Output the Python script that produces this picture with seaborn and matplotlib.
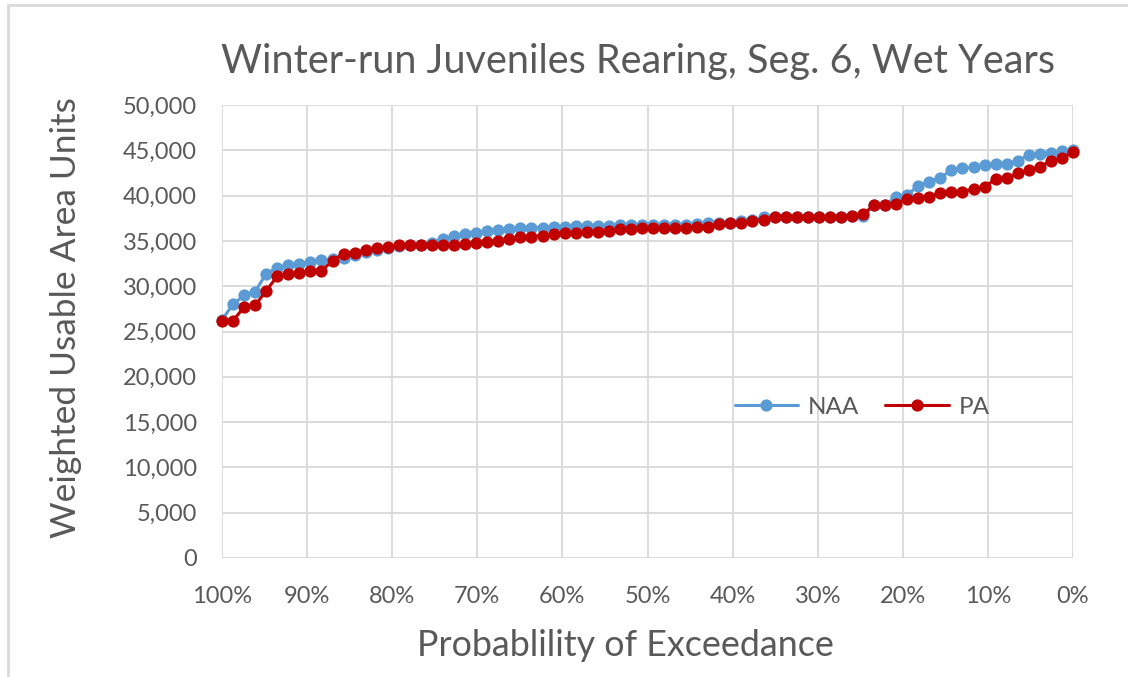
import numpy as np
import pandas as pd
import matplotlib
matplotlib.use("Agg")
import matplotlib.pyplot as plt
from matplotlib.lines import Line2D
from matplotlib.ticker import FuncFormatter, MultipleLocator
import seaborn as sns

# values sorted from lowest (100% exceedance) to highest (0% exceedance)
naa = [26300, 28000, 29000, 29400, 31400, 32000, 32300, 32500, 32700, 32900,
       33000, 33100, 33400, 33800, 34000, 34200, 34400, 34500, 34600, 34800,
       35180, 35550, 35770, 35920, 36140, 36210, 36320, 36400, 36470, 36470,
       36580, 36580, 36650, 36650, 36650, 36690, 36760, 36760, 36800, 36800,
       36800, 36800, 36800, 36900, 36950, 36950, 37000, 37250, 37350, 37600,
       37650, 37650, 37650, 37650, 37650, 37650, 37680, 37700, 37700, 38950,
       38980, 39890, 40080, 41100, 41540, 41990, 42800, 43000, 43150, 43420,
       43440, 43520, 43830, 44490, 44640, 44680, 44900, 45040]
pa = [26200, 26200, 27700, 27900, 29500, 31100, 31400, 31500, 31700, 31700,
      32800, 33600, 33700, 34000, 34200, 34300, 34500, 34500, 34550, 34560,
      34560, 34560, 34630, 34740, 34920, 35030, 35180, 35400, 35480, 35590,
      35770, 35920, 35920, 35960, 36030, 36100, 36290, 36320, 36400, 36400,
      36420, 36470, 36470, 36580, 36580, 36870, 36950, 36950, 37240, 37320,
      37610, 37610, 37610, 37610, 37610, 37610, 37680, 37790, 37940, 38970,
      38970, 39050, 39600, 39710, 39890, 40260, 40370, 40440, 40740, 40990,
      41810, 41920, 42470, 42840, 43200, 43830, 44130, 44790]

series_names = ["NAA", "PA"]
series_colors = ["#5B9BD5", "#C00000"]
x_ticks = [100, 90, 80, 70, 60, 50, 40, 30, 20, 10, 0]

# exceedance probability from rank
n = len(naa)
exceed = 100 * (1 - np.arange(n) / (n - 1))

df = pd.DataFrame({
    "exceed": np.concatenate([exceed, exceed]),
    "value": naa + pa,
    "series": ["NAA"] * n + ["PA"] * n,
})

sns.set_style("white")
plt.rcParams["font.family"] = ["Lato", "DejaVu Sans"]
text_color = "#595959"
grid_color = "#d9d9d9"

fig = plt.figure(figsize=(11.28, 6.77), dpi=100)
ax = fig.add_axes([222 / 1128, 1 - 558 / 677, (1073 - 222) / 1128, (558 - 105) / 677])

sns.lineplot(data=df, x="exceed", y="value", hue="series",
             hue_order=series_names, palette=series_colors,
             marker="o", markersize=8.8, markeredgewidth=0,
             linewidth=2.2, ax=ax)
for line in ax.lines:
    line.set_clip_on(False)

ax.set_xlim(100, 0)
ax.set_ylim(0, 50000)
ax.set_xticks(x_ticks)
ax.xaxis.set_major_formatter(FuncFormatter(lambda v, p: f"{v:.0f}%"))
ax.yaxis.set_major_locator(MultipleLocator(5000))
ax.yaxis.set_major_formatter(FuncFormatter(lambda v, p: f"{v:,.0f}"))
ax.grid(True, color=grid_color, linewidth=1.3)
for s in ax.spines.values():
    s.set_visible(False)
ax.tick_params(axis="both", length=0, labelsize=17, labelcolor=text_color)
ax.tick_params(axis="y", pad=18)
ax.tick_params(axis="x", pad=20)
ax.set_xlabel("")
ax.set_ylabel("")

fig.text(638 / 1128, 1 - 62 / 677, "Winter-run Juveniles Rearing, Seg. 6, Wet Years",
         ha="center", va="center", fontsize=28.5, color=text_color)
fig.text(66 / 1128, 1 - 318 / 677, "Weighted Usable Area Units", rotation=90,
         ha="center", va="center", fontsize=25.5, color=text_color)
fig.text(625 / 1128, 1 - 645 / 677, "Probablility of Exceedance",
         ha="center", va="center", fontsize=25.8, color=text_color)

handles, labels = ax.get_legend_handles_labels()
ax.legend(handles, labels, loc="center", bbox_to_anchor=(862 / 1128, 1 - 407 / 677),
          bbox_transform=fig.transFigure, ncol=2, frameon=False, fontsize=17.5,
          handlelength=2.6, handletextpad=0.4, columnspacing=1.1,
          labelcolor=text_color)

# chart border (left and top edges visible)
fig.add_artist(Line2D([8 / 1128, 8 / 1128], [0, 1 - 5 / 677], color=grid_color, linewidth=2))
fig.add_artist(Line2D([8 / 1128, 1], [1 - 5 / 677, 1 - 5 / 677], color=grid_color, linewidth=2))

fig.savefig("out.png", dpi=100, facecolor="white")
